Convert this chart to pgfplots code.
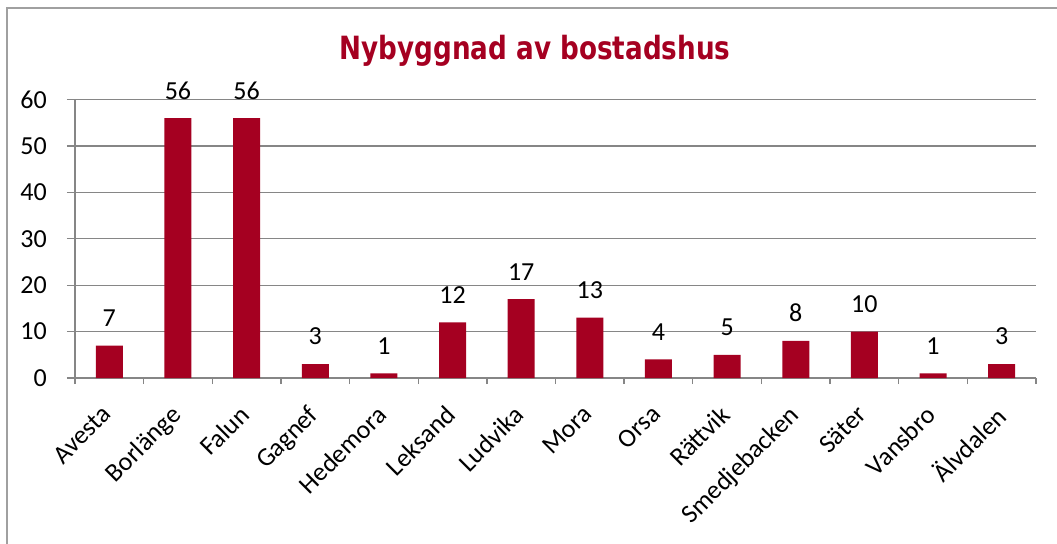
\documentclass[border=0pt]{standalone}
\usepackage{pgfplots}
\pgfplotsset{compat=1.18}
\usepackage{fontspec}
\setmainfont{Carlito}
\newfontfamily\titlefont{DejaVu Sans}[FakeStretch=0.82]
\definecolor{barred}{RGB}{165,0,33}
\definecolor{gridgray}{RGB}{134,134,134}
\definecolor{framegray}{RGB}{160,160,160}
\begin{document}
\begin{tikzpicture}[x=0.75pt,y=0.75pt]
\useasboundingbox (-75,-165) rectangle (982,378);
\draw[framegray,line width=1.5pt] (-68,-200) -- (-68,370) -- (1100,370);
\begin{axis}[
  at={(0,0)}, anchor=south west,
  scale only axis, width=720.75pt, height=208.8pt,
  xmin=-0.5, xmax=13.5, ymin=0, ymax=60,
  ytick={0,10,...,60},
  xtick={0,...,13},
  xticklabels={Avesta,Borlänge,Falun,Gagnef,Hedemora,Leksand,Ludvika,Mora,Orsa,Rättvik,Smedjebacken,Säter,Vansbro,Älvdalen},
  minor xtick={-0.5,0.5,...,13.5},
  axis x line*=bottom, axis y line*=left,
  axis line style={gridgray,line width=1pt,-},
  tick align=outside,
  major x tick style={draw=none},
  minor x tick style={gridgray,line width=1pt},
  minor tick length=4.5pt,
  major tick length=6pt,
  y tick style={gridgray,line width=1pt},
  ymajorgrids, grid style={gridgray,line width=1pt},
  /pgf/number format/assume math mode=true,
  tick label style={font=\fontsize{19.5}{20}\selectfont},
  yticklabel style={inner sep=0pt,xshift=-15pt},
  xticklabel style={rotate=45,anchor=north east,inner sep=0pt,xshift=-13.8pt,yshift=-4.8pt},
  ybar, bar width=20.25pt,
  nodes near coords,
  nodes near coords style={font=\fontsize{19.5}{20}\selectfont,anchor=south,inner sep=0pt,yshift=14pt},
]
\addplot[fill=barred,draw=none] coordinates {
(0,7) (1,56) (2,56) (3,3) (4,1) (5,12) (6,17) (7,13) (8,4) (9,5) (10,8) (11,10) (12,1) (13,3)};
\end{axis}
\node[text=barred,font=\titlefont\bfseries\fontsize{24}{28}\selectfont] at (460,327) {Nybyggnad av bostadshus};
\end{tikzpicture}
\end{document}
